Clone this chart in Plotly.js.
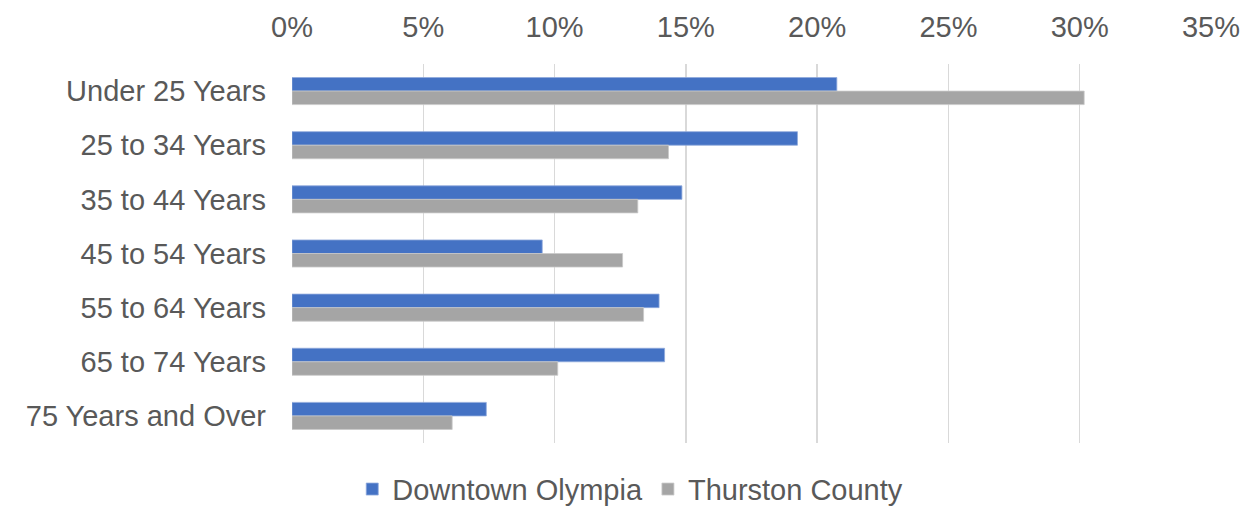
<!DOCTYPE html>
<html>
<head>
<meta charset="utf-8">
<script src="https://cdn.plot.ly/plotly-3.0.1.min.js"></script>
<style>
html,body{margin:0;padding:0;background:#fff;}
#chart{width:1248px;height:508px;}
</style>
</head>
<body>
<div id="chart"></div>
<script>
const categories = ["Under 25 Years","25 to 34 Years","35 to 44 Years","45 to 54 Years","55 to 64 Years","65 to 74 Years","75 Years and Over"];
const downtownOlympia = [20.75, 19.25, 14.85, 9.53, 13.98, 14.19, 7.4];
const thurstonCounty = [30.17, 14.34, 13.17, 12.59, 13.39, 10.12, 6.1];
const tickValues = [0,5,10,15,20,25,30,35];
const tickLabels = ["0%","5%","10%","15%","20%","25%","30%","35%"];

const font = "'Liberation Sans', Arial, sans-serif";
const textColor = "#595959";

const traces = [
  {
    type: "bar", orientation: "h", name: "Downtown Olympia",
    y: categories, x: downtownOlympia,
    marker: {color: "#4472C4", line: {color: "#8FAADC", width: 0.8}},
    hoverinfo: "x+y"
  },
  {
    type: "bar", orientation: "h", name: "Thurston County",
    y: categories, x: thurstonCounty,
    marker: {color: "#A5A5A5", line: {color: "#C9C9C9", width: 0.8}},
    hoverinfo: "x+y"
  }
];

const layout = {
  width: 1248, height: 508,
  margin: {l: 292, r: 37, t: 64, b: 65, pad: 0},
  paper_bgcolor: "#fff", plot_bgcolor: "#fff",
  barmode: "group", bargap: 0.5, bargroupgap: 0,
  font: {family: font, color: textColor, size: 29},
  xaxis: {
    side: "top", range: [0, 35], tickvals: tickValues, ticktext: tickLabels,
    showgrid: true, gridcolor: "#D9D9D9", gridwidth: 1.3,
    zeroline: false, showline: false, ticks: "",
    tickfont: {family: font, size: 29, color: textColor},
    ticklabelstandoff: 20, fixedrange: true
  },
  yaxis: {
    autorange: "reversed", type: "category",
    showgrid: false, zeroline: false, showline: false, ticks: "",
    tickfont: {family: font, size: 29, color: textColor},
    ticklabelstandoff: 25, fixedrange: true
  },
  showlegend: true,
  legend: {
    orientation: "h", xref: "container", yref: "container",
    x: 0.505, xanchor: "center", y: 0.037, yanchor: "middle",
    font: {family: font, size: 29, color: textColor},
    itemwidth: 30, tracegroupgap: 0
  }
};

Plotly.newPlot("chart", traces, layout, {displayModeBar: false, staticPlot: true});
</script>
</body>
</html>
